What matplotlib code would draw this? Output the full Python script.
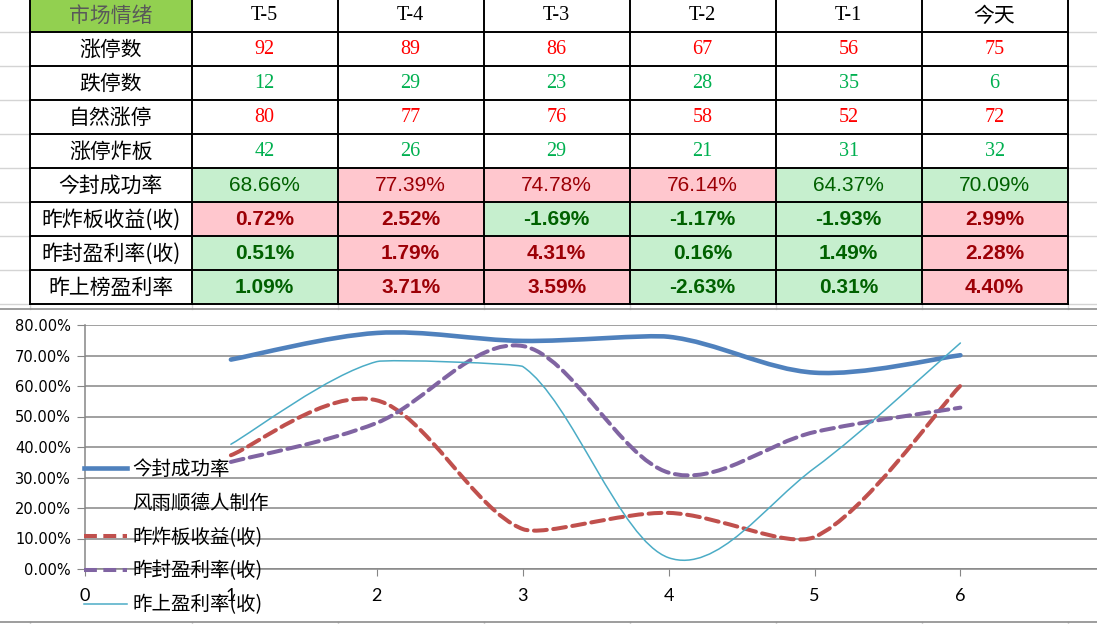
"""Market sentiment table (Excel screenshot) plus the smoothed line chart below it."""

import math

import matplotlib
matplotlib.use("Agg")
import matplotlib.pyplot as plt
from matplotlib.lines import Line2D
from matplotlib.patches import PathPatch, Rectangle
from matplotlib.path import Path

CJK = ["Noto Sans CJK SC", "DejaVu Sans"]

# ---- table data -----------------------------------------------------------
DAYS = ["T-5", "T-4", "T-3", "T-2", "T-1", "今天"]
ROW_LABELS = ["涨停数", "跌停数", "自然涨停", "涨停炸板",
              "今封成功率", "昨炸板收益(收)", "昨封盈利率(收)", "昨上榜盈利率"]

limit_up = [92, 89, 86, 67, 56, 75]
limit_down = [12, 29, 23, 28, 35, 6]
natural_up = [80, 77, 76, 58, 52, 72]
broken_boards = [42, 26, 29, 21, 31, 32]

seal_rate = [68.66, 77.39, 74.78, 76.14, 64.37, 70.09]
broken_return = [0.72, 2.52, -1.69, -1.17, -1.93, 2.99]
sealed_return = [0.51, 1.79, 4.31, 0.16, 1.49, 2.28]
board_return = [1.09, 3.71, 3.59, -2.63, 0.31, 4.40]

# conditional-format tone of each percent cell: "r" = hot, "g" = cold
seal_rate_tone = ["g", "r", "r", "r", "g", "g"]
broken_return_tone = ["r", "r", "g", "g", "g", "r"]
sealed_return_tone = ["g", "r", "r", "g", "g", "r"]
board_return_tone = ["g", "r", "r", "g", "g", "r"]

# ---- chart data (values as plotted) ---------------------------------------
x_pos = [1, 2, 3, 4, 5, 6]
line_seal_rate = [0.6866, 0.7739, 0.7478, 0.7614, 0.6437, 0.7009]
line_broken = [0.373, 0.553, 0.131, 0.184, 0.105, 0.601]
line_sealed = [0.351, 0.479, 0.731, 0.316, 0.449, 0.529]
line_board = [0.409, 0.680, 0.664, 0.037, 0.331, 0.741]

SERIES = [
    ("今封成功率", line_seal_rate, "#4F81BD", 3.3, "-"),
    ("昨炸板收益(收)", line_broken, "#C0504D", 2.9, "--"),
    ("昨封盈利率(收)", line_sealed, "#8064A2", 2.9, "--"),
    ("昨上盈利率(收)", line_board, "#4BACC6", 1.1, "-"),
]

W, H = 1097, 624
fig = plt.figure(figsize=(W / 100, H / 100), dpi=100)

# background axes in pixel coordinates for the spreadsheet part
bg = fig.add_axes([0, 0, 1, 1])
bg.set_xlim(0, W)
bg.set_ylim(H, 0)
bg.axis("off")

col_edges = [29.8] + [191.6 + 146 * i for i in range(7)]
row_edges = [-2] + [31.7 + 34 * i for i in range(9)]
table_bottom = row_edges[-1]

LIGHT = "#D4D4D4"
# excel sheet gridlines outside the table
for y in row_edges[1:]:
    bg.plot([0, col_edges[0]], [y, y], color=LIGHT, lw=1)
    bg.plot([col_edges[-1], W], [y, y], color=LIGHT, lw=1)
for x in col_edges:
    bg.plot([x, x], [table_bottom, 308.5], color=LIGHT, lw=1)
    bg.plot([x, x], [621.5, H], color=LIGHT, lw=1)

FILL = {"r": "#FFC7CE", "g": "#C6EFCE"}
INK = {"r": "#9C0006", "g": "#006100"}


def cell(ci, ri, text, color="black", fill=None, **font):
    x0, x1 = col_edges[ci], col_edges[ci + 1]
    y0, y1 = row_edges[ri], row_edges[ri + 1]
    if fill:
        bg.add_patch(Rectangle((x0, y0), x1 - x0, y1 - y0, color=fill, lw=0))
    bg.text((x0 + x1) / 2, (y0 + y1) / 2 + 1, text, ha="center", va="center",
            color=color, **font)


serif = dict(family=["Liberation Serif", "Noto Sans CJK SC"], fontsize=14.5)
song = dict(family=CJK, fontsize=15)

cell(0, 0, "市场情绪", color="#595959", fill="#92D050", **song)
for ci, d in enumerate(DAYS):
    cell(ci + 1, 0, d, **(song if d == "今天" else serif))

for ri, lab in enumerate(ROW_LABELS):
    cell(0, ri + 1, lab, **song)

int_rows = [(limit_up, "#FF0000"), (limit_down, "#00B050"),
            (natural_up, "#FF0000"), (broken_boards, "#00B050")]
for ri, (vals, colr) in enumerate(int_rows):
    for ci, v in enumerate(vals):
        cell(ci + 1, ri + 1, str(v), color=colr, **serif)

pct_rows = [(seal_rate, seal_rate_tone, "normal"),
            (broken_return, broken_return_tone, "bold"),
            (sealed_return, sealed_return_tone, "bold"),
            (board_return, board_return_tone, "bold")]
for k, (vals, tones, weight) in enumerate(pct_rows):
    for ci, (v, t) in enumerate(zip(vals, tones)):
        cell(ci + 1, k + 5, f"{v:.2f}%", color=INK[t], fill=FILL[t],
             family="Liberation Sans", fontsize=15, fontweight=weight)

for y in row_edges[1:]:
    bg.plot([col_edges[0], col_edges[-1]], [y, y], color="black", lw=1.4)
for x in col_edges:
    bg.plot([x, x], [row_edges[0], table_bottom], color="black", lw=1.4)

# chart area frame
bg.plot([0, W], [308.5, 308.5], color="#8C8C8C", lw=1.2)
bg.plot([0, W], [621.5, 621.5], color="#8C8C8C", lw=1.2)

# ---- line chart -----------------------------------------------------------
px_unit = 145.9
ax = fig.add_axes([85 / W, (H - 569) / H, (W - 85) / W, 244 / H])
ax.patch.set_visible(False)
ax.set_xlim(0, (W - 85) / px_unit)
ax.set_ylim(0, 0.8)

GRID = "#868686"
ax.set_yticks([i / 10 for i in range(9)])
ax.set_yticklabels([f"{i * 10:.2f}%" for i in range(9)])
ax.set_xticks(range(7))
ax.yaxis.grid(True, color=GRID, lw=1.1)
for s in ("top", "right"):
    ax.spines[s].set_visible(False)
for s in ("left", "bottom"):
    ax.spines[s].set_color(GRID)
    ax.spines[s].set_linewidth(1.1)
ax.tick_params(axis="y", direction="out", length=6, color=GRID, pad=4,
               labelsize=10.5)
ax.tick_params(axis="x", direction="out", length=5, color=GRID, pad=9)
for t in ax.get_xticklabels():
    t.set_fontfamily("Lato")
    t.set_fontsize(13)
for t in ax.get_yticklabels():
    t.set_fontfamily("DejaVu Sans")


def smooth_path(xs, ys):
    """Excel-style smoothed line: Bezier handles of 1/6 of the neighbour
    chord, shortened to half the segment when the neighbours are far."""
    pts = [(x, y * 100) for x, y in zip(xs, ys)]  # distances in % points
    n = len(pts)

    def dist(a, b):
        return math.hypot(a[0] - b[0], a[1] - b[1])

    verts, codes = [(xs[0], ys[0])], [Path.MOVETO]
    for i in range(n - 1):
        p0 = pts[max(i - 1, 0)]
        p1, p2 = pts[i], pts[i + 1]
        p3 = pts[min(i + 2, n - 1)]
        d12 = dist(p1, p2)
        d02 = dist(p0, p2)
        d13 = dist(p1, p3)
        f0 = 1 / 6 if d02 / 6 < d12 / 2 else d12 / (2 * d02)
        f1 = 1 / 6 if d13 / 6 < d12 / 2 else d12 / (2 * d13)
        c1 = (p1[0] + (p2[0] - p0[0]) * f0, p1[1] + (p2[1] - p0[1]) * f0)
        c2 = (p2[0] - (p3[0] - p1[0]) * f1, p2[1] - (p3[1] - p1[1]) * f1)
        verts += [(c1[0], c1[1] / 100), (c2[0], c2[1] / 100),
                  (p2[0], p2[1] / 100)]
        codes += [Path.CURVE4] * 3
    return Path(verts, codes)


handles, labels = [], []
for z, (name, vals, colr, lw, ls) in enumerate(SERIES):
    patch = PathPatch(smooth_path(x_pos, vals), fill=False, edgecolor=colr,
                      lw=lw, zorder=3 + z, capstyle="round")
    h = Line2D([], [], color=colr, lw=lw)
    if ls == "--":
        patch.set_linestyle((0, (3.2, 1.6)))
        h.set_dashes((3.2, 1.6))
    ax.add_patch(patch)
    handles.append(h)
    labels.append(name)
    if z == 0:
        handles.append(Line2D([], [], color="none"))
        labels.append("风雨顺德人制作")

leg = ax.legend(handles, labels, loc="upper left",
                bbox_to_anchor=(84 / W, 1 - 459 / H),
                bbox_transform=fig.transFigure, frameon=False,
                prop={"family": CJK, "size": 14},
                handlelength=2.2, handletextpad=0.3, labelspacing=0.66,
                borderpad=0, borderaxespad=0)
leg.set_zorder(10)

fig.savefig("out.png", dpi=100)
